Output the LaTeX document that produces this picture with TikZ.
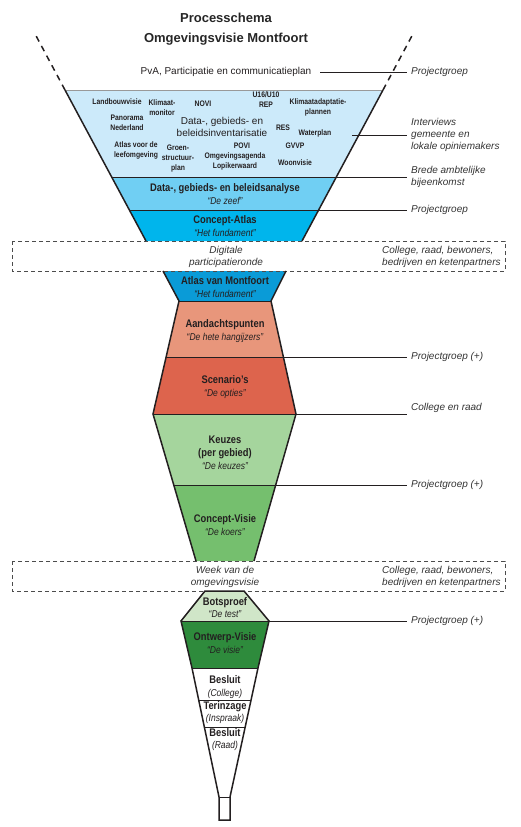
\documentclass[tikz,border=0pt]{standalone}
\usepackage{fontspec}
\setmainfont{Liberation Sans}
\newfontfamily\narrowfont{Liberation Sans}[FakeStretch=0.85]
\usetikzlibrary{positioning}

\definecolor{inventblue}{RGB}{204,234,250}
\definecolor{analyseblue}{RGB}{112,207,243}
\definecolor{atlasblue}{RGB}{0,181,236}
\definecolor{montblue}{RGB}{10,155,215}
\definecolor{punten}{RGB}{232,150,123}
\definecolor{opties}{RGB}{221,100,77}
\definecolor{keuzegreen}{RGB}{165,213,157}
\definecolor{koersgreen}{RGB}{117,191,110}
\definecolor{testgreen}{RGB}{208,230,200}
\definecolor{visiegreen}{RGB}{46,139,60}
\definecolor{rimcol}{RGB}{35,31,32}

\newcommand{\nick}[1]{{\fontsize{10}{13}\selectfont\itshape #1}}

\tikzset{bandtext/.style={font=\narrowfont\fontsize{11}{13}\selectfont,
  align=center, inner sep=0pt, text=rimcol},
  tag/.style={font=\narrowfont\bfseries\fontsize{8}{10}\selectfont,
  align=center, inner sep=0pt, text=rimcol}}

\begin{document}
\begin{tikzpicture}[x=1pt, y=-1pt,
  rim/.style={draw=rimcol, line width=1.5pt},
  cut/.style={draw=rimcol, line width=0.8pt},
  guide/.style={draw=rimcol, line width=0.7pt},
  dashbox/.style={draw=black!70, dash pattern=on 4pt off 3pt, line width=0.7pt},
  who/.style={font=\itshape\fontsize{10}{12}\selectfont, align=left,
    anchor=west, inner xsep=4pt, inner ysep=1pt, text=black!80}]
  \useasboundingbox (0,0) rectangle (520,827);

  % funnel corners
  \coordinate (a0) at (65,90);     \coordinate (b0) at (383,90);
  \coordinate (a1) at (111.6,177); \coordinate (b1) at (336.4,177);
  \coordinate (a2) at (129.3,210); \coordinate (b2) at (318.7,210);
  \coordinate (a3) at (146,241);   \coordinate (b3) at (302,241);
  \coordinate (c0) at (163,271);   \coordinate (d0) at (286,271);
  \coordinate (c1) at (179,301);   \coordinate (d1) at (271,301);
  \coordinate (c2) at (166.1,357); \coordinate (d2) at (283.4,357);
  \coordinate (c3) at (153,414);   \coordinate (d3) at (296,414);
  \coordinate (c4) at (173.8,485); \coordinate (d4) at (275.7,485);
  \coordinate (c5) at (196,561);   \coordinate (d5) at (254,561);
  \coordinate (e0) at (205,591);   \coordinate (f0) at (244,591);
  \coordinate (e1) at (181,621);   \coordinate (f1) at (269,621);
  \coordinate (e2) at (192,668);   \coordinate (f2) at (258,668);
  \coordinate (e3) at (198.7,700); \coordinate (f3) at (251.1,700);
  \coordinate (e4) at (204.3,727); \coordinate (f4) at (245.2,727);
  \coordinate (e5) at (219,797);   \coordinate (f5) at (230,797);
  \coordinate (e6) at (219,820);   \coordinate (f6) at (230,820);

  % fills
  \fill[inventblue] (a0) -- (b0) -- (b1) -- (a1) -- cycle;
  \fill[analyseblue] (a1) -- (b1) -- (b2) -- (a2) -- cycle;
  \fill[atlasblue] (a2) -- (b2) -- (b3) -- (a3) -- cycle;
  \fill[montblue] (c0) -- (d0) -- (d1) -- (c1) -- cycle;
  \fill[punten] (c1) -- (d1) -- (d2) -- (c2) -- cycle;
  \fill[opties] (c2) -- (d2) -- (d3) -- (c3) -- cycle;
  \fill[keuzegreen] (c3) -- (d3) -- (d4) -- (c4) -- cycle;
  \fill[koersgreen] (c4) -- (d4) -- (d5) -- (c5) -- cycle;
  \fill[testgreen] (e0) -- (f0) -- (f1) -- (e1) -- cycle;
  \fill[visiegreen] (e1) -- (f1) -- (f2) -- (e2) -- cycle;
  \fill[white] (e2) -- (f2) -- (f5) -- (f6) -- (e6) -- (e5) -- cycle;

  % dashed rounds
  \draw[dashbox] (12,241) rectangle (505,271);
  \draw[dashbox] (12,561) rectangle (505,591);

  % band borders and rims
  \draw[cut] (a1) -- (b1) (a2) -- (b2) (c1) -- (d1) (c2) -- (d2) (c3) -- (d3)
    (c4) -- (d4) (e1) -- (f1) (e2) -- (f2) (e3) -- (f3) (e4) -- (f4) (e5) -- (f5);
  \draw[draw=black!40, line width=1pt] (a0) -- (b0);
  \draw[rim] (a0) -- (a3) (b0) -- (b3);
  \draw[rim, dash pattern=on 6pt off 5pt] (a0) -- (34,32) (b0) -- (414,32);
  \draw[rim] (c0) -- (c1) -- (c3) -- (c5) (d0) -- (d1) -- (d3) -- (d5);
  \draw[rim] (f0) -- (e0) -- (e1) -- (e2) -- (e5) -- (e6) -- (f6) -- (f5)
    -- (f2) -- (f1) -- cycle;

  % title
  \node[font=\bfseries\fontsize{13}{20}\selectfont, align=center, text=black!85]
    (title) at (226,29) {Processchema\\Omgevingsvisie Montfoort};
  \node[font=\fontsize{10}{12}\selectfont, text=rimcol] (pva) at (226,72)
    {PvA, Participatie en communicatieplan};

  % inventory
  \node[tag] (landb) at (117,102) {Landbouwvisie};
  \node[tag] (klimon) at (162,108) {Klimaat-\\monitor};
  \node[tag] (novi) at (203,104) {NOVI};
  \node[tag] (rep) at (266,100) {U16/U10\\REP};
  \node[tag] (klimad) at (318,107) {Klimaatadaptatie-\\plannen};
  \node[tag] (panor) at (127,123) {Panorama\\Nederland};
  \node[font=\fontsize{10}{12}\selectfont, align=center, inner sep=0pt,
    text=rimcol] (invent) at (222,127) {Data-, gebieds- en\\beleidsinventarisatie};
  \node[tag] (res) at (283,128) {RES};
  \node[tag] (water) at (315,133) {Waterplan};
  \node[tag] (atlasl) at (136,150) {Atlas voor de\\leefomgeving};
  \node[tag] (groen) at (178,159) {Groen-\\structuur-\\plan};
  \node[tag] (povi) at (242,146) {POVI};
  \node[tag] (agenda) at (235,161) {Omgevingsagenda\\Lopikerwaard};
  \node[tag] (gvvp) at (295,146) {GVVP};
  \node[tag] (woon) at (295,163) {Woonvisie};

  % bands
  \node[bandtext] (analyse) at (225,194)
    {\textbf{Data-, gebieds- en beleidsanalyse}\\\nick{“De zeef”}};
  \node[bandtext] (catlas) at (225,226)
    {\textbf{Concept-Atlas}\\\nick{“Het fundament”}};
  \node[bandtext] (matlas) at (225,287)
    {\textbf{Atlas van Montfoort}\\\nick{“Het fundament”}};
  \node[bandtext] (aandacht) at (225,331)
    {\textbf{Aandachtspunten}\\\nick{“De hete hangijzers”}};
  \node[bandtext] (scen) at (225,387)
    {\textbf{Scenario’s}\\\nick{“De opties”}};
  \node[bandtext] (keuze) at (225,453)
    {\textbf{Keuzes}\\\textbf{(per gebied)}\\\nick{“De keuzes”}};
  \node[bandtext] (cvisie) at (225,525)
    {\textbf{Concept-Visie}\\\nick{“De koers”}};
  \node[bandtext, font=\narrowfont\fontsize{11}{12}\selectfont] (bots) at (225,608)
    {\textbf{Botsproef}\\\nick{“De test”}};
  \node[bandtext] (ovisie) at (225,643)
    {\textbf{Ontwerp-Visie}\\\nick{“De visie”}};
  \node[bandtext] (besl1) at (225,687)
    {\textbf{Besluit}\\\nick{(College)}};
  \node[bandtext, font=\narrowfont\fontsize{11}{12}\selectfont] (inzage) at (225,713)
    {\textbf{Terinzage}\\\nick{(Inspraak)}};
  \node[bandtext, font=\narrowfont\fontsize{11}{12}\selectfont] (besl2) at (225,740)
    {\textbf{Besluit}\\\nick{(Raad)}};

  % participation rounds
  \node[who, anchor=center, align=center] (digi) at (226,257)
    {Digitale\\participatieronde};
  \node[who] (digiwho) at (378,257)
    {College, raad, bewoners,\\bedrijven en ketenpartners};
  \node[who, anchor=center, align=center] (week) at (225,577)
    {Week van de\\omgevingsvisie};
  \node[who] (weekwho) at (378,577)
    {College, raad, bewoners,\\bedrijven en ketenpartners};

  % who decides
  \coordinate (pvaend) at (320,72);
  \coordinate (invend) at (352,135);
  \node[who] (pg1) at (407,72) {Projectgroep};
  \node[who] (intv) at (407,135) {Interviews\\gemeente en\\lokale opiniemakers};
  \node[who] (brede) at (407,177) {Brede ambtelijke\\bijeenkomst};
  \node[who] (pg2) at (407,210) {Projectgroep};
  \node[who] (pgp1) at (407,357) {Projectgroep (+)};
  \node[who, anchor=south west] (cenr) at (407,414) {College en raad};
  \node[who] (pgp2) at (407,485) {Projectgroep (+)};
  \node[who] (pgp3) at (407,621) {Projectgroep (+)};
  \draw[guide] (pvaend) -- (pg1.west);
  \draw[guide] (invend) -- (intv.west);
  \draw[guide] (b1) -- (brede.west);
  \draw[guide] (b2) -- (pg2.west);
  \draw[guide] (d2) -- (pgp1.west);
  \draw[guide] (d3) -- (cenr.south west);
  \draw[guide] (d4) -- (pgp2.west);
  \draw[guide] (f1) -- (pgp3.west);
\end{tikzpicture}
\end{document}
